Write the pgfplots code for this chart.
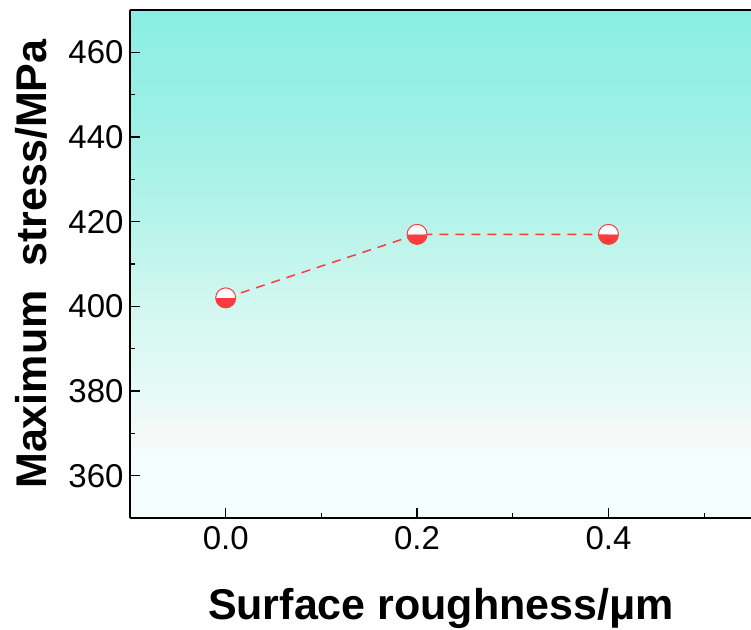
\documentclass[border=0pt]{standalone}
\usepackage{pgfplots}
\pgfplotsset{compat=1.18}
\usepackage{fontspec}
\setmainfont{Liberation Sans}
\usetikzlibrary{plotmarks}

\definecolor{linered}{RGB}{250,60,60}
\definecolor{c0}{RGB}{244,254,252}
\definecolor{c1}{RGB}{247,248,248}
\definecolor{c2}{RGB}{232,250,246}
\definecolor{c3}{RGB}{210,247,240}
\definecolor{c4}{RGB}{180,243,234}
\definecolor{c5}{RGB}{155,240,229}
\definecolor{c6}{RGB}{138,238,228}

% vertical background: near white at the bottom, turquoise at the top
% (the middle 50bp of the shading is stretched over the axis area)
\pgfdeclareverticalshading{bgshade}{100bp}{%
  color(0bp)=(c0); color(25bp)=(c0); color(31bp)=(c0); color(33bp)=(c1);
  color(37bp)=(c2); color(46bp)=(c3); color(55bp)=(c4); color(65bp)=(c5);
  color(75bp)=(c6); color(100bp)=(c6)}

\begin{document}
\begin{tikzpicture}
\begin{axis}[
  scale only axis,
  width=622bp, height=508bp,
  xmin=-0.1, xmax=0.55,
  ymin=350, ymax=470,
  axis x line*=bottom,
  axis y line*=left,
  axis line style={line width=1.3bp, black, -},
  axis background/.style={shading=bgshade},
  xtick={0,0.2,0.4},
  xticklabels={0.0,0.2,0.4},
  minor xtick={0.1,0.3,0.5},
  ytick={360,380,...,460},
  minor ytick={350,370,...,470},
  tick align=inside,
  major tick length=10bp,
  minor tick length=5bp,
  tick style={line width=1.3bp, black},
  /pgf/number format/assume math mode=true,
  ticklabel style={font=\fontsize{33bp}{35bp}\selectfont},
  xticklabel style={yshift=-5bp},
  yticklabel style={xshift=-3bp},
  xlabel={\textbf{Surface roughness/μm}},
  ylabel={\textbf{Maximum\ \ stress/MPa}},
  label style={font=\fontsize{43bp}{46bp}\selectfont},
  xlabel style={yshift=-32bp},
  ylabel style={yshift=14bp},
  clip=false,
]
\addplot[
  color=linered, line width=1.5bp, dash pattern=on 9bp off 7bp,
  mark=halfcircle*, mark size=10bp,
  mark options={solid, line width=1bp, draw=linered, fill=linered, rotate=180},
] coordinates {
  (0.0,402)
  (0.2,417)
  (0.4,417)
};
% top frame line
\draw[line width=1.3bp] (rel axis cs:0,1) -- (rel axis cs:1,1);
\end{axis}
\pgfresetboundingbox
\path (current axis.south west) ++(-130bp,-112bp) rectangle ++(751bp,630bp);
\end{tikzpicture}
\end{document}
